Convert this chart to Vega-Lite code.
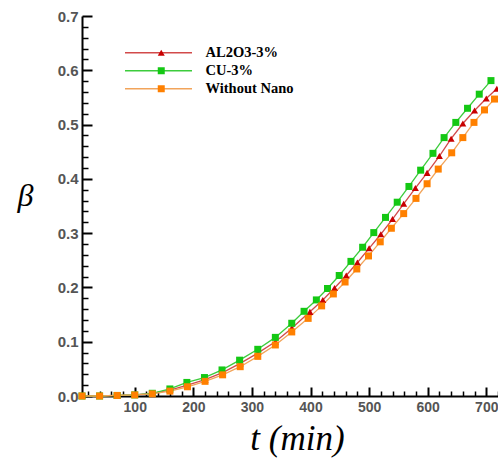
{
  "$schema": "https://vega.github.io/schema/vega-lite/v6.json",
  "width": 416,
  "height": 380,
  "autosize": {"type": "none"},
  "padding": {"left": 82, "top": 16, "right": 0, "bottom": 62},
  "background": "white",
  "config": {"view": {"stroke": null}},
  "data": {"values": [
    {"s": "AL2O3-3%", "t": 10, "b": 0.0},
    {"s": "AL2O3-3%", "t": 40, "b": 0.0},
    {"s": "AL2O3-3%", "t": 70, "b": 0.001},
    {"s": "AL2O3-3%", "t": 100, "b": 0.002},
    {"s": "AL2O3-3%", "t": 130, "b": 0.005},
    {"s": "AL2O3-3%", "t": 160, "b": 0.011},
    {"s": "AL2O3-3%", "t": 190, "b": 0.02},
    {"s": "AL2O3-3%", "t": 220, "b": 0.03},
    {"s": "AL2O3-3%", "t": 250, "b": 0.043},
    {"s": "AL2O3-3%", "t": 280, "b": 0.06},
    {"s": "AL2O3-3%", "t": 310, "b": 0.079},
    {"s": "AL2O3-3%", "t": 340, "b": 0.1},
    {"s": "AL2O3-3%", "t": 368, "b": 0.125},
    {"s": "AL2O3-3%", "t": 399, "b": 0.155},
    {"s": "AL2O3-3%", "t": 421, "b": 0.177},
    {"s": "AL2O3-3%", "t": 441, "b": 0.199},
    {"s": "AL2O3-3%", "t": 461, "b": 0.222},
    {"s": "AL2O3-3%", "t": 480, "b": 0.246},
    {"s": "AL2O3-3%", "t": 500, "b": 0.272},
    {"s": "AL2O3-3%", "t": 520, "b": 0.298},
    {"s": "AL2O3-3%", "t": 540, "b": 0.326},
    {"s": "AL2O3-3%", "t": 559, "b": 0.354},
    {"s": "AL2O3-3%", "t": 579, "b": 0.383},
    {"s": "AL2O3-3%", "t": 599, "b": 0.411},
    {"s": "AL2O3-3%", "t": 620, "b": 0.442},
    {"s": "AL2O3-3%", "t": 640, "b": 0.474},
    {"s": "AL2O3-3%", "t": 660, "b": 0.502},
    {"s": "AL2O3-3%", "t": 680, "b": 0.526},
    {"s": "AL2O3-3%", "t": 700, "b": 0.548},
    {"s": "AL2O3-3%", "t": 718, "b": 0.566},
    {"s": "CU-3%", "t": 10, "b": 0.0},
    {"s": "CU-3%", "t": 40, "b": 0.0},
    {"s": "CU-3%", "t": 70, "b": 0.001},
    {"s": "CU-3%", "t": 100, "b": 0.002},
    {"s": "CU-3%", "t": 130, "b": 0.005},
    {"s": "CU-3%", "t": 160, "b": 0.013},
    {"s": "CU-3%", "t": 189, "b": 0.025},
    {"s": "CU-3%", "t": 219, "b": 0.034},
    {"s": "CU-3%", "t": 249, "b": 0.048},
    {"s": "CU-3%", "t": 279, "b": 0.066},
    {"s": "CU-3%", "t": 310, "b": 0.086},
    {"s": "CU-3%", "t": 340, "b": 0.108},
    {"s": "CU-3%", "t": 368, "b": 0.134},
    {"s": "CU-3%", "t": 389, "b": 0.156},
    {"s": "CU-3%", "t": 410, "b": 0.177},
    {"s": "CU-3%", "t": 429, "b": 0.198},
    {"s": "CU-3%", "t": 449, "b": 0.222},
    {"s": "CU-3%", "t": 469, "b": 0.248},
    {"s": "CU-3%", "t": 489, "b": 0.274},
    {"s": "CU-3%", "t": 508, "b": 0.301},
    {"s": "CU-3%", "t": 528, "b": 0.329},
    {"s": "CU-3%", "t": 548, "b": 0.357},
    {"s": "CU-3%", "t": 568, "b": 0.386},
    {"s": "CU-3%", "t": 588, "b": 0.416},
    {"s": "CU-3%", "t": 609, "b": 0.447},
    {"s": "CU-3%", "t": 628, "b": 0.476},
    {"s": "CU-3%", "t": 648, "b": 0.504},
    {"s": "CU-3%", "t": 668, "b": 0.53},
    {"s": "CU-3%", "t": 688, "b": 0.556},
    {"s": "CU-3%", "t": 708, "b": 0.581},
    {"s": "Without Nano", "t": 10, "b": 0.0},
    {"s": "Without Nano", "t": 40, "b": 0.0},
    {"s": "Without Nano", "t": 70, "b": 0.001},
    {"s": "Without Nano", "t": 100, "b": 0.002},
    {"s": "Without Nano", "t": 130, "b": 0.004},
    {"s": "Without Nano", "t": 160, "b": 0.009},
    {"s": "Without Nano", "t": 190, "b": 0.017},
    {"s": "Without Nano", "t": 220, "b": 0.027},
    {"s": "Without Nano", "t": 250, "b": 0.039},
    {"s": "Without Nano", "t": 280, "b": 0.054},
    {"s": "Without Nano", "t": 310, "b": 0.073},
    {"s": "Without Nano", "t": 340, "b": 0.094},
    {"s": "Without Nano", "t": 368, "b": 0.118},
    {"s": "Without Nano", "t": 396, "b": 0.143},
    {"s": "Without Nano", "t": 419, "b": 0.166},
    {"s": "Without Nano", "t": 439, "b": 0.188},
    {"s": "Without Nano", "t": 459, "b": 0.21},
    {"s": "Without Nano", "t": 479, "b": 0.234},
    {"s": "Without Nano", "t": 499, "b": 0.258},
    {"s": "Without Nano", "t": 519, "b": 0.284},
    {"s": "Without Nano", "t": 538, "b": 0.309},
    {"s": "Without Nano", "t": 559, "b": 0.336},
    {"s": "Without Nano", "t": 580, "b": 0.364},
    {"s": "Without Nano", "t": 599, "b": 0.391},
    {"s": "Without Nano", "t": 618, "b": 0.418},
    {"s": "Without Nano", "t": 641, "b": 0.448},
    {"s": "Without Nano", "t": 660, "b": 0.476},
    {"s": "Without Nano", "t": 679, "b": 0.504},
    {"s": "Without Nano", "t": 697, "b": 0.527},
    {"s": "Without Nano", "t": 714, "b": 0.547}
  ]},
  "layer": [
    {
      "mark": {"type": "line", "strokeWidth": 1.3},
      "encoding": {
        "x": {"field": "t", "type": "quantitative",
          "scale": {"domain": [10, 720], "nice": false, "zero": false},
          "axis": {"orient": "bottom", "values": [100, 200, 300, 400, 500, 600, 700], "tickSize": -9, "tickWidth": 2, "tickColor": "black",
            "domainColor": "black", "domainWidth": 2, "grid": false,
            "labelFont": "Liberation Sans", "labelFontSize": 14, "labelColor": "#555", "labelFontWeight": "bold", "labelPadding": 13,
            "title": "t  (min)", "titleFont": "Liberation Serif", "titleFontStyle": "italic", "titleFontWeight": "normal", "titleFontSize": 35, "titleColor": "black",
            "titleX": 215, "titleY": 42, "titleBaseline": "middle", "titleAlign": "center"}},
        "y": {"field": "b", "type": "quantitative",
          "scale": {"domain": [0, 0.7], "nice": false},
          "axis": {"orient": "left", "values": [0, 0.1, 0.2, 0.3, 0.4, 0.5, 0.6, 0.7], "tickSize": -10, "tickWidth": 2, "tickColor": "black",
            "domainColor": "black", "domainWidth": 2, "grid": false,
            "labelFont": "Liberation Sans", "labelFontSize": 15, "labelColor": "#555", "labelFontWeight": "bold", "labelPadding": 14,
            "title": "β", "titleAngle": 0, "titleFont": "Liberation Serif", "titleFontStyle": "italic", "titleFontWeight": "normal", "titleFontSize": 32, "titleColor": "black",
            "titleX": -57, "titleY": 179, "titleBaseline": "middle", "titleAlign": "center"}},
        "stroke": {"field": "s", "type": "nominal",
          "scale": {"domain": ["AL2O3-3%", "CU-3%", "Without Nano"], "range": ["#d24a4a", "#3ccc3c", "#f2a45a"]},
          "legend": {"orient": "none", "legendX": 42, "legendY": 28, "symbolType": "stroke", "symbolSize": 4489, "symbolStrokeWidth": 1.5,
            "title": null, "labelExpr": "''", "labelFontSize": 13, "clipHeight": 17.5, "rowPadding": 0, "padding": 0}}
      }
    },
    {
      "mark": {"type": "point", "filled": true, "opacity": 1, "size": 49},
      "encoding": {
        "x": {"field": "t", "type": "quantitative",
          "scale": {"domain": [10, 720], "nice": false, "zero": false},
          "axis": {"orient": "bottom", "values": [20, 40, 60, 80, 120, 140, 160, 180, 220, 240, 260, 280, 320, 340, 360, 380, 420, 440, 460, 480, 520, 540, 560, 580, 620, 640, 660, 680, 720],
            "tickSize": -5, "tickWidth": 1.5, "tickColor": "black", "domain": false, "labels": false, "grid": false, "title": null}},
        "y": {"field": "b", "type": "quantitative",
          "scale": {"domain": [0, 0.7], "nice": false},
          "axis": {"orient": "left", "values": [0.02, 0.04, 0.06, 0.08, 0.12, 0.14, 0.16, 0.18, 0.22, 0.24, 0.26, 0.28, 0.32, 0.34, 0.36, 0.38, 0.42, 0.44, 0.46, 0.48, 0.52, 0.54, 0.56, 0.58, 0.62, 0.64, 0.66, 0.68],
            "tickSize": -6, "tickWidth": 1.5, "tickColor": "black", "domain": false, "labels": false, "grid": false, "title": null}},
        "fill": {"field": "s", "type": "nominal",
          "scale": {"domain": ["AL2O3-3%", "CU-3%", "Without Nano"], "range": ["#c80000", "#14c814", "#ff8000"]},
          "legend": {"orient": "none", "legendX": 72, "legendY": 28, "title": null, "labelFont": "Liberation Serif", "labelFontWeight": "bold", "labelFontSize": 14.5, "labelColor": "black",
            "labelOffset": 37, "clipHeight": 17.5, "rowPadding": 0, "padding": 0, "symbolSize": 49}},
        "shape": {"field": "s", "type": "nominal",
          "scale": {"domain": ["AL2O3-3%", "CU-3%", "Without Nano"], "range": ["triangle-up", "square", "square"]},
          "legend": {"orient": "none", "legendX": 72, "legendY": 28, "title": null, "labelFont": "Liberation Serif", "labelFontWeight": "bold", "labelFontSize": 14.5, "labelColor": "black",
            "labelOffset": 37, "clipHeight": 17.5, "rowPadding": 0, "padding": 0, "symbolSize": 49}}
      }
    }
  ],
  "resolve": {"scale": {"x": "independent", "y": "independent"}, "axis": {"x": "independent", "y": "independent"},
    "legend": {"stroke": "independent", "fill": "independent", "shape": "independent"}}
}
